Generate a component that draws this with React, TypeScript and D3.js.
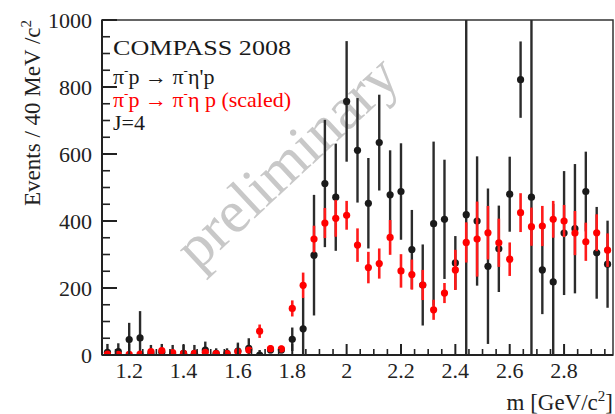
import * as d3 from "d3";

// bin centres, GeV/c^2 (40 MeV bins)
const massBins = [
  1.12, 1.16, 1.2, 1.24, 1.28, 1.32, 1.36, 1.4, 1.44, 1.48, 1.52, 1.56, 1.6, 1.64, 1.68, 1.72, 1.76, 1.8, 1.84,
  1.88, 1.92, 1.96, 2.0, 2.04, 2.08, 2.12, 2.16, 2.2, 2.24, 2.28, 2.32, 2.36, 2.4, 2.44, 2.48, 2.52, 2.56,
  2.6, 2.64, 2.68, 2.72, 2.76, 2.8, 2.84, 2.88, 2.92, 2.96,
];

// pi- p -> pi- eta' p
const etaPrimeValues = [
  8, 10, 46, 51, 5, 8, 0, 5, 5, 15, 5, 5, 12, 20, 0, 15, 15, 47, 78,
  298, 512, 471, 757, 611, 453, 634, 478, 488, 315, 209, 392, 405, 275, 419, 400, 265, 317,
  480, 822, 471, 254, 218, 364, 377, 488, 305, 271,
];
const etaPrimeErrors = [
  25, 25, 50, 80, 25, 25, 30, 25, 25, 25, 15, 15, 25, 30, 15, 10, 10, 35, 93,
  180, 190, 160, 180, 156, 135, 143, 133, 144, 118, 121, 245, 178, 80, 2000, 193, 232, 129,
  112, 114, 2000, 132, 233, 185, 193, 119, 137, 130,
];

// pi- p -> pi- eta p (scaled)
const etaValues = [
  3, 2, 2, 3, 10, 13, 7, 5, 5, 8, 4, 4, 10, 15, 71, 19, 18, 139, 208,
  346, 394, 408, 417, 328, 261, 273, 351, 251, 240, 209, 135, 185, 254, 336, 346, 365, 335,
  286, 425, 383, 385, 405, 400, 364, 338, 365, 313,
];
const etaErrors = [
  4, 4, 4, 4, 6, 6, 5, 5, 5, 5, 4, 4, 6, 8, 20, 10, 10, 24, 38,
  40, 45, 55, 43, 50, 47, 45, 52, 50, 45, 45, 30, 30, 60, 60, 112, 80, 72,
  50, 58, 57, 60, 55, 48, 66, 57, 55, 50,
];

const yMajorTicks = [0, 200, 400, 600, 800, 1000];
const xMajorTicks = [1.2, 1.4, 1.6, 1.8, 2.0, 2.2, 2.4, 2.6, 2.8];

const W = 615;
const H = 414;
const m = { left: 102, top: 20, right: 2, bottom: 59 };
const FONT = "'Liberation Serif', 'Times New Roman', serif";

// small superscript minus used after pi
const Minus = () => (
  <tspan fontSize={13} dy={-9}>
    -
  </tspan>
);

export default function App() {
  const x = d3.scaleLinear().domain([1.1, 2.98]).range([m.left, W - m.right]);
  const y = d3.scaleLinear().domain([0, 1000]).range([H - m.bottom, m.top]);
  const x0 = m.left;
  const x1 = W - m.right;
  const y0 = H - m.bottom;
  const y1 = m.top;

  const yMinor = d3.range(0, 1001, 50).filter((v) => v % 200 !== 0);
  const xMinor = x.ticks(40).filter((v) => !xMajorTicks.some((t) => Math.abs(t - v) < 1e-6));
  const fmt = d3.format("~g");

  const series = [
    { vals: etaPrimeValues, errs: etaPrimeErrors, color: "#1a1a1a", bar: "#2b2b2b", w: 2.4 },
    { vals: etaValues, errs: etaErrors, color: "#ff0000", bar: "#ff1a1a", w: 2.6 },
  ];

  return (
    <svg
      width={W}
      height={H}
      style={{ position: "absolute", left: 0, top: 0, background: "#fff", fontFamily: FONT }}
    >
      <defs>
        <clipPath id="plot">
          <rect x={x0} y={y1} width={x1 - x0} height={y0 - y1} />
        </clipPath>
      </defs>

      {/* watermark */}
      <text
        transform={`translate(${300},${176}) rotate(-43)`}
        textAnchor="middle"
        fontSize={60}
        fill="#c8c8c8"
        style={{ fontFamily: FONT }}
      >
        preliminary
      </text>

      {/* frame */}
      <rect x={x0} y={y1} width={x1 - x0} height={y0 - y1} fill="none" stroke="#333" strokeWidth={1.5} />

      {/* data */}
      <g clipPath="url(#plot)">
        {series.map((s, si) => (
          <g key={si}>
            {massBins.map((mb, i) => (
              <g key={i}>
                <line
                  x1={x(mb)}
                  x2={x(mb)}
                  y1={y(s.vals[i] - s.errs[i])}
                  y2={y(s.vals[i] + s.errs[i])}
                  stroke={s.bar}
                  strokeWidth={s.w}
                />
                <circle cx={x(mb)} cy={y(s.vals[i])} r={3.6} fill={s.color} />
              </g>
            ))}
          </g>
        ))}
      </g>

      {/* axes */}
      <line x1={x0} x2={x0} y1={y1} y2={y0} stroke="#222" strokeWidth={2} />
      <line x1={x0} x2={x1} y1={y0} y2={y0} stroke="#222" strokeWidth={2} />
      {yMajorTicks.map((t) => (
        <g key={"ym" + t}>
          <line x1={x0} x2={x0 + 15} y1={y(t)} y2={y(t)} stroke="#222" strokeWidth={2} />
          <text x={x0 - 10} y={y(t)} dy="0.35em" textAnchor="end" fontSize={22} fill="#222">
            {t}
          </text>
        </g>
      ))}
      {yMinor.map((t) => (
        <line key={"yn" + t} x1={x0} x2={x0 + 8} y1={y(t)} y2={y(t)} stroke="#222" strokeWidth={1.6} />
      ))}
      {xMajorTicks.map((t) => (
        <g key={"xm" + t}>
          <line x1={x(t)} x2={x(t)} y1={y0} y2={y0 - 11} stroke="#222" strokeWidth={2} />
          <text x={x(t)} y={y0 + 23} textAnchor="middle" fontSize={22} fill="#222">
            {fmt(t)}
          </text>
        </g>
      ))}
      {xMinor.map((t) => (
        <line key={"xn" + t} x1={x(t)} x2={x(t)} y1={y0} y2={y0 - 6} stroke="#222" strokeWidth={1.6} />
      ))}

      {/* axis titles */}
      <text
        transform={`translate(${40},${y1}) rotate(-90)`}
        textAnchor="end"
        fontSize={23}
        fill="#222"
      >
        Events / 40 MeV /c
        <tspan fontSize={15} dy={-9}>2</tspan>
      </text>
      <text x={x1} y={410} textAnchor="end" fontSize={23} fill="#222">
        m [GeV/c<tspan fontSize={15} dy={-9}>2</tspan>
        <tspan dy={9}>]</tspan>
      </text>

      {/* legend */}
      <g fontSize={22}>
        <text x={113} y={55} fill="#1a1a1a" textLength={178} lengthAdjust="spacingAndGlyphs">
          COMPASS 2008
        </text>
        <text x={113} y={84} fill="#1a1a1a">
          π<Minus />
          <tspan dy={9}>p → π</tspan>
          <Minus />
          <tspan dy={9}>η'p</tspan>
        </text>
        <text x={113} y={107} fill="#ff0000">
          π<Minus />
          <tspan dy={9}>p → π</tspan>
          <Minus />
          <tspan dy={9}>η p (scaled)</tspan>
        </text>
        <text x={113} y={130} fill="#1a1a1a">
          J=4
        </text>
      </g>
    </svg>
  );
}
